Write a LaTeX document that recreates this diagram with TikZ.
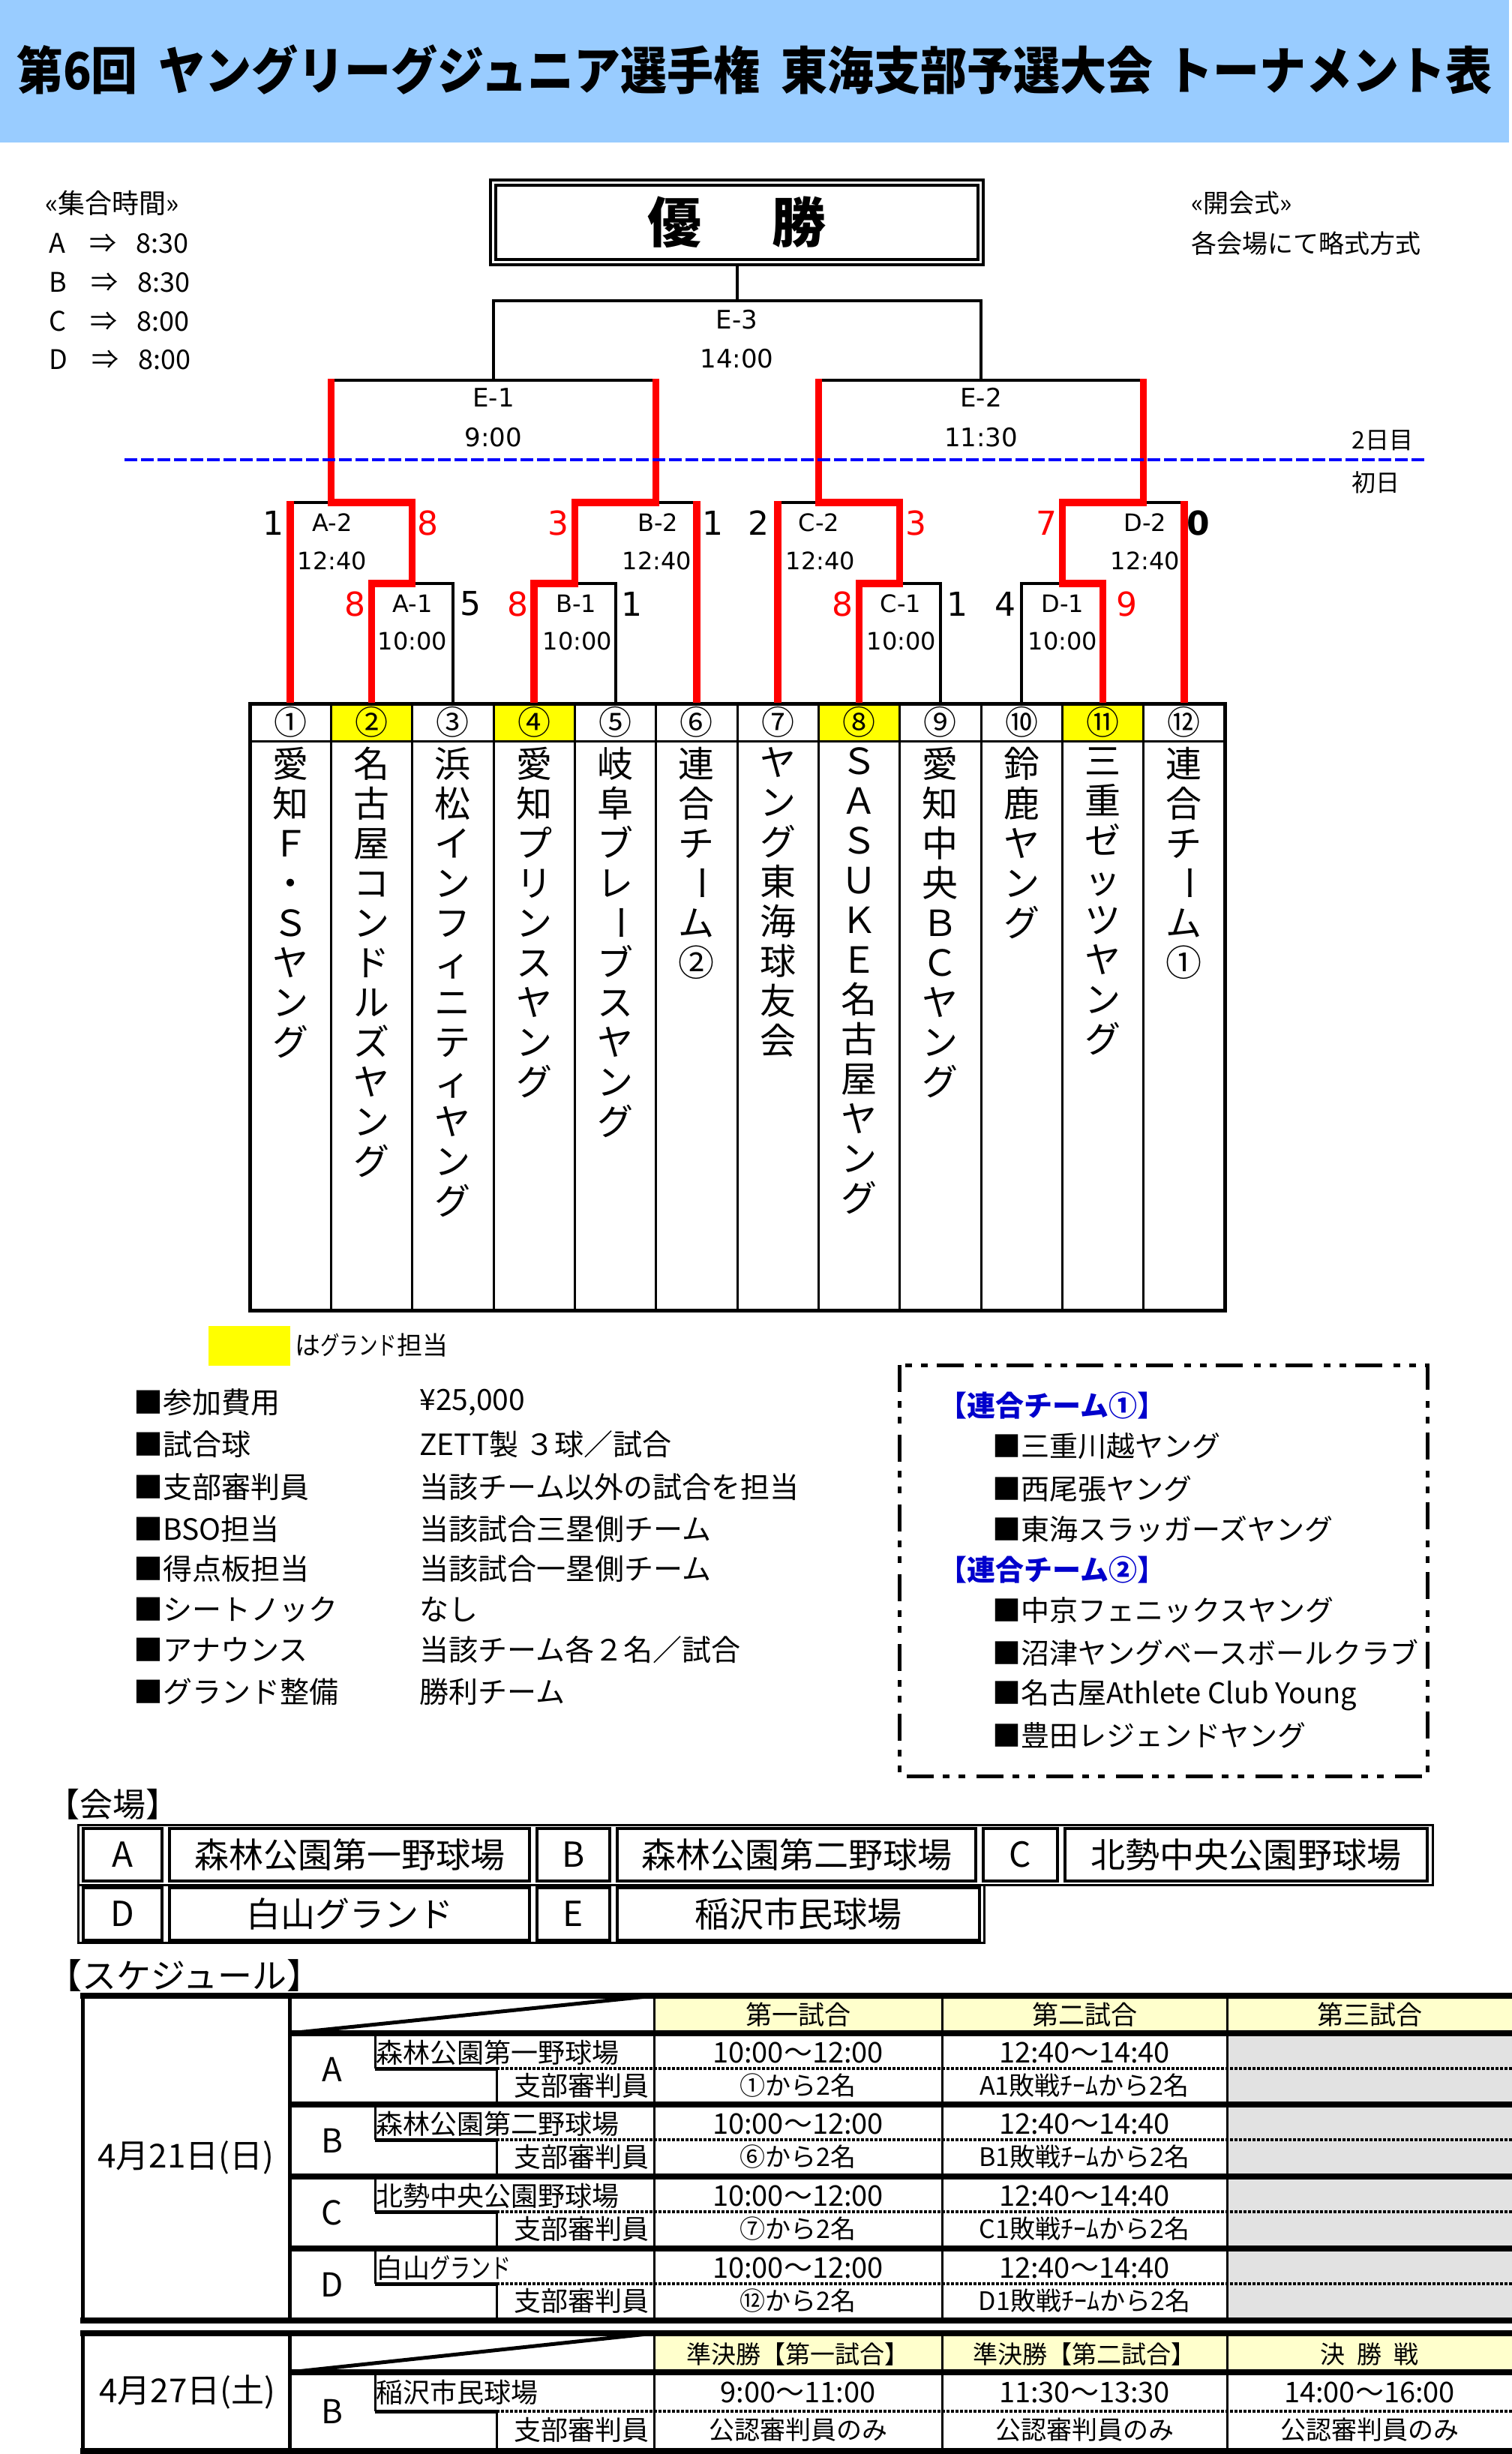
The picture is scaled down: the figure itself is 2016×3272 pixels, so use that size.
\documentclass[tikz,border=0pt]{standalone}
\usepackage{fontspec}
\usepackage{graphicx}
\setmainfont{Noto Sans CJK JP}
\newfontfamily\dvs{DejaVu Sans}
\definecolor{band}{HTML}{99CCFF}
\definecolor{hdr}{HTML}{FFFFCC}
\definecolor{ylw}{HTML}{FFFF00}
\definecolor{rd}{HTML}{FF0000}
\definecolor{bl}{HTML}{0000FF}
\definecolor{dkbl}{HTML}{0000CC}
\definecolor{gry}{HTML}{E2E2E2}
\newcommand\fsz[1]{\fontsize{#1}{#1}\selectfont}
\newcommand\vchoon{\raisebox{0.17em}{\rotatebox[origin=c]{-90}{ー}}}
\newcommand\narrowkana[1]{\scalebox{0.75}[1]{#1}}
\tikzset{
 blk/.style={line width=2pt, black},
 rdl/.style={line width=4.75pt, rd},
 lbl/.style={font=\dvs\fsz{16}, inner sep=0},
 elbl/.style={font=\dvs\fsz{17}, inner sep=0},
 sc/.style={font=\dvs\fsz{22}, inner sep=0},
 scr/.style={sc, text=rd},
 numcell/.style={draw, line width=1.5pt, minimum width=54.17pt, minimum height=25pt, inner sep=0, font=\fsz{22}},
 vname/.style={anchor=north, align=center, inner sep=0, font=\fontsize{24}{26.5}\selectfont},
 info/.style={anchor=west, inner sep=0, font=\fsz{19.5}},
 memb/.style={anchor=west, inner sep=0, font=\fsz{19}},
 mhead/.style={anchor=west, inner sep=0, font=\bfseries\fsz{19}, text=dkbl},
 vcell/.style={draw, line width=2pt, inner sep=0, minimum height=35pt, font=\fsz{23}},
 stxt/.style={inner sep=0, font=\fsz{17}},
 ttxt/.style={inner sep=0, font=\fsz{19}},
 shdr/.style={inner sep=0, font=\fsz{17.5}},
 thin1/.style={line width=1.5pt},
 thick4/.style={line width=4pt},
 dotl/.style={line width=2pt, dash pattern=on 2pt off 1pt},
}
\begin{document}
\begin{tikzpicture}[x=0.5pt,y=-0.5pt]
\useasboundingbox (0,0) rectangle (2016,3272);
\fill[white] (0,0) rectangle (2016,3272);

% ---------------- title band
\fill[band] (0,0) rectangle (2012,190);
\node[inner sep=0, font=\bfseries\fsz{31}] (title) at (1006,93)
 {\scalebox{1}[1.1]{第6回\hspace{0.45em}ヤングリーグジュニア選手権\hspace{0.45em}東海支部予選大会\hspace{0.3em}トーナメント表}};

% ---------------- top notes
\node[anchor=west, inner sep=0, font=\fsz{18}] (gath) at (60,271) {«集合時間»};
\node[anchor=west, inner sep=0, font=\fsz{18}] (gA) at (65,325) {A\hspace{16pt}⇒\hspace{13pt}8:30};
\node[anchor=west, inner sep=0, font=\fsz{18}] (gB) at (65,377) {B\hspace{16pt}⇒\hspace{13pt}8:30};
\node[anchor=west, inner sep=0, font=\fsz{18}] (gC) at (65,428) {C\hspace{16pt}⇒\hspace{13pt}8:00};
\node[anchor=west, inner sep=0, font=\fsz{18}] (gD) at (65,480) {D\hspace{16pt}⇒\hspace{13pt}8:00};
\node[anchor=west, inner sep=0, font=\fsz{17}] (open) at (1588,271) {«開会式»};
\node[anchor=west, inner sep=0, font=\fsz{17}] (open2) at (1588,325) {各会場にて略式方式};

% ---------------- champion box
\node[draw, line width=2pt, double, double distance=1.5pt, minimum width=325pt, minimum height=53pt,
      inner sep=0, font=\bfseries\fsz{36}] (champ) at (982.5,296.5) {優\hspace{47pt}勝};

% ---------------- team number cells
\node[numcell] (t1) at (387.17,963) {①};
\node[numcell, fill=ylw] (t2) at (495.5,963) {②};
\node[numcell] (t3) at (603.83,963) {③};
\node[numcell, fill=ylw] (t4) at (712.17,963) {④};
\node[numcell] (t5) at (820.5,963) {⑤};
\node[numcell] (t6) at (928.83,963) {⑥};
\node[numcell] (t7) at (1037.17,963) {⑦};
\node[numcell, fill=ylw] (t8) at (1145.5,963) {⑧};
\node[numcell] (t9) at (1253.83,963) {⑨};
\node[numcell] (t10) at (1362.17,963) {⑩};
\node[numcell, fill=ylw] (t11) at (1470.5,963) {⑪};
\node[numcell] (t12) at (1578.83,963) {⑫};
\foreach \xx in {441.33,549.67,658,766.33,874.67,983,1091.33,1199.67,1308,1416.33,1524.67}
  \draw[thin1] (\xx,988) -- (\xx,1747);
\draw[line width=2.5pt] (333,938) rectangle (1633,1747);

% ---------------- team names (vertical)
\node[vname] (n1) at (387.17,996) {愛\\知\\Ｆ\\・\\Ｓ\\ヤ\\ン\\グ};
\node[vname] (n2) at (495.5,996) {名\\古\\屋\\コ\\ン\\ド\\ル\\ズ\\ヤ\\ン\\グ};
\node[vname] (n3) at (603.83,996) {浜\\松\\イ\\ン\\フ\\ィ\\ニ\\テ\\ィ\\ヤ\\ン\\グ};
\node[vname] (n4) at (712.17,996) {愛\\知\\プ\\リ\\ン\\ス\\ヤ\\ン\\グ};
\node[vname] (n5) at (820.5,996) {岐\\阜\\ブ\\レ\\\vchoon\\ブ\\ス\\ヤ\\ン\\グ};
\node[vname] (n6) at (928.83,996) {連\\合\\チ\\\vchoon\\ム\\②};
\node[vname] (n7) at (1037.17,996) {ヤ\\ン\\グ\\東\\海\\球\\友\\会};
\node[vname] (n8) at (1145.5,996) {Ｓ\\Ａ\\Ｓ\\Ｕ\\Ｋ\\Ｅ\\名\\古\\屋\\ヤ\\ン\\グ};
\node[vname] (n9) at (1253.83,996) {愛\\知\\中\\央\\Ｂ\\Ｃ\\ヤ\\ン\\グ};
\node[vname] (n10) at (1362.17,996) {鈴\\鹿\\ヤ\\ン\\グ};
\node[vname] (n11) at (1470.5,996) {三\\重\\ゼ\\ッ\\ツ\\ヤ\\ン\\グ};
\node[vname] (n12) at (1578.83,996) {連\\合\\チ\\\vchoon\\ム\\①};

% ---------------- bracket (black)
\draw[blk] (495.5,778) -- (603.83,778) -- (t3.north);
\draw[blk] (712.17,778) -- (820.5,778) -- (t5.north);
\draw[blk] (1145.5,778) -- (1253.83,778) -- (t9.north);
\draw[blk] (t10.north) -- (1362.17,778) -- (1470.5,778);
\draw[blk] (387.17,670) -- (549.67,670);
\draw[blk] (766.33,670) -- (928.83,670);
\draw[blk] (1037.17,670) -- (1199.67,670);
\draw[blk] (1416.33,670) -- (1578.83,670);
\draw[blk] (441.33,507) -- (874.67,507);
\draw[blk] (1091.33,507) -- (1524.67,507);
\draw[blk] (658,507) -- (658,401) -- (1308,401) -- (1308,507);
\draw[blk] (champ.south) -- (982.5,401);

% ---------------- bracket (red)
\draw[rdl] (t1.north) -- (387.17,668);
\draw[rdl] (t2.north) -- (495.5,778) -- (549.67,778) -- (549.67,670) -- (441.33,670) -- (441.33,505);
\draw[rdl] (t4.north) -- (712.17,778) -- (766.33,778) -- (766.33,670) -- (874.67,670) -- (874.67,505);
\draw[rdl] (t6.north) -- (928.83,668);
\draw[rdl] (t7.north) -- (1037.17,668);
\draw[rdl] (t8.north) -- (1145.5,778) -- (1199.67,778) -- (1199.67,670) -- (1091.33,670) -- (1091.33,505);
\draw[rdl] (t11.north) -- (1470.5,778) -- (1416.33,778) -- (1416.33,670) -- (1524.67,670) -- (1524.67,505);
\draw[rdl] (t12.north) -- (1578.83,668);

% ---------------- day divider
\coordinate (dl) at (166,613);
\coordinate (dr) at (1901,613);
\draw[bl, line width=2pt, dash pattern=on 8.5pt off 2.5pt] (dl) -- (dr);
\node[anchor=west, inner sep=0, font=\fsz{16}] (day2) at (1802,587) {2日目};
\node[anchor=west, inner sep=0, font=\fsz{16}] (day1) at (1802,643) {初日};

% ---------------- match labels
\node[elbl] (lE3) at (982.5,426) {E-3};
\node[elbl] (tE3) at (982.5,478) {14:00};
\node[elbl] (lE1) at (658,530) {E-1};
\node[elbl] (tE1) at (658,583) {9:00};
\node[elbl] (lE2) at (1308,530) {E-2};
\node[elbl] (tE2) at (1308,583) {11:30};
\node[lbl] (lA2) at (443,697) {A-2};
\node[lbl] (tA2) at (443,748) {12:40};
\node[lbl] (lA1) at (550,805) {A-1};
\node[lbl] (tA1) at (550,855) {10:00};
\node[lbl] (lB1) at (768,805) {B-1};
\node[lbl] (tB1) at (770,855) {10:00};
\node[lbl] (lB2) at (877,697) {B-2};
\node[lbl] (tB2) at (876,748) {12:40};
\node[lbl] (lC2) at (1092,697) {C-2};
\node[lbl] (tC2) at (1094,748) {12:40};
\node[lbl] (lC1) at (1201,805) {C-1};
\node[lbl] (tC1) at (1202,855) {10:00};
\node[lbl] (lD1) at (1417,805) {D-1};
\node[lbl] (tD1) at (1417,855) {10:00};
\node[lbl] (lD2) at (1527,697) {D-2};
\node[lbl] (tD2) at (1527,748) {12:40};

% ---------------- scores
\node[sc]  (s1) at (364,697) {1};
\node[scr] (s2) at (570,697) {8};
\node[scr] (s3) at (473,805) {8};
\node[sc]  (s4) at (627,805) {5};
\node[scr] (s5) at (690,805) {8};
\node[sc]  (s6) at (842,805) {1};
\node[scr] (s7) at (744,697) {3};
\node[sc]  (s8) at (950,697) {1};
\node[sc]  (s9) at (1011,697) {2};
\node[scr] (s10) at (1221,697) {3};
\node[scr] (s11) at (1123,805) {8};
\node[sc]  (s12) at (1276,805) {1};
\node[sc]  (s13) at (1340,805) {4};
\node[scr] (s14) at (1502,805) {9};
\node[scr] (s15) at (1395,697) {7};
\node[sc, font=\dvs\bfseries\fsz{22}] (s16) at (1598,697) {0};

% ---------------- legend
\fill[ylw] (278,1768) rectangle (387,1821);
\node[anchor=west, inner sep=0, font=\fsz{17}] (leg) at (393,1794) {は\narrowkana{グランド}担当};

% ---------------- info list
\node[info] (i1) at (178,1870) {■参加費用};
\node[info] (i2) at (178,1926) {■試合球};
\node[info] (i3) at (178,1983) {■支部審判員};
\node[info] (i4) at (178,2039) {■BSO担当};
\node[info] (i5) at (178,2092) {■得点板担当};
\node[info] (i6) at (178,2146) {■シートノック};
\node[info] (i7) at (178,2200) {■アナウンス};
\node[info] (i8) at (178,2256) {■グランド整備};
\node[info] (v1) at (559,1870) {¥25,000};
\node[info] (v2) at (559,1926) {ZETT製 ３球／試合};
\node[info] (v3) at (559,1983) {当該チーム以外の試合を担当};
\node[info] (v4) at (559,2039) {当該試合三塁側チーム};
\node[info] (v5) at (559,2092) {当該試合一塁側チーム};
\node[info] (v6) at (559,2146) {なし};
\node[info] (v7) at (559,2200) {当該チーム各２名／試合};
\node[info] (v8) at (559,2256) {勝利チーム};

% ---------------- joint team box
\draw[line width=2.5pt, dash pattern=on 18pt off 6pt on 4.5pt off 6pt on 4.5pt off 7.5pt] (1199,1820) rectangle (1903,2368);
\node[mhead] (h1) at (1251,1874) {【連合チーム①】};
\node[memb] (m1) at (1323,1928) {■三重川越ヤング};
\node[memb] (m2) at (1323,1985) {■西尾張ヤング};
\node[memb] (m3) at (1323,2039) {■東海スラッガーズヤング};
\node[mhead] (h2) at (1251,2093) {【連合チーム②】};
\node[memb] (m4) at (1323,2147) {■中京フェニックスヤング};
\node[memb] (m5) at (1323,2204) {■沼津ヤングベースボールクラブ};
\node[memb] (m6) at (1323,2260) {■名古屋Athlete Club Young};
\node[memb] (m7) at (1323,2314) {■豊田レジェンドヤング};

% ---------------- venues
\node[anchor=west, inner sep=0, font=\fsz{22}] (venT) at (62,2406) {【会場】};
\draw[line width=1.5pt] (104,2433) rectangle (1910,2513);
\draw[line width=1.5pt] (104,2513) rectangle (1312,2590);
\node[vcell, minimum width=52.5pt] (vA) at (163.5,2473) {A};
\node[vcell, minimum width=240pt] (vAn) at (466,2473) {森林公園第一野球場};
\node[vcell, minimum width=48.5pt] (vB) at (764.5,2473) {B};
\node[vcell, minimum width=239pt] (vBn) at (1062,2473) {森林公園第二野球場};
\node[vcell, minimum width=49.5pt] (vC) at (1360.5,2473) {C};
\node[vcell, minimum width=241.5pt] (vCn) at (1661.5,2473) {北勢中央公園野球場};
\node[vcell, minimum width=52.5pt] (vD) at (163.5,2551.5) {D};
\node[vcell, minimum width=240pt] (vDn) at (466,2551.5) {白山グランド};
\node[vcell, minimum width=48.5pt] (vE) at (764.5,2551.5) {E};
\node[vcell, minimum width=241.5pt] (vEn) at (1064.5,2551.5) {稲沢市民球場};

% ---------------- schedule table 1
\node[anchor=west, inner sep=0, font=\fsz{23}] (schT) at (63,2634) {【スケジュール】};
\fill[hdr] (872,2665) rectangle (2016,2707);
\foreach \yt/\L/\V/\J/\Q in {2715/A/森林公園第一野球場/①/A1敗戦ﾁｰﾑから2名,
                             2810/B/森林公園第二野球場/⑥/B1敗戦ﾁｰﾑから2名,
                             2906/C/北勢中央公園野球場/⑦/C1敗戦ﾁｰﾑから2名,
                             3002/D/白山\narrowkana{グランド}/⑫/D1敗戦ﾁｰﾑから2名} {
  \pgfmathsetmacro\ymid{\yt+43}
  \pgfmathsetmacro\ybot{\yt+88}
  \pgfmathsetmacro\yup{\yt+22}
  \pgfmathsetmacro\ylow{\yt+66}
  \pgfmathsetmacro\yctr{\yt+44}
  \fill[gry] (1636,\yt) rectangle (2016,\ybot);
  \draw[thin1] (500,\yt) -- (500,\ymid);
  \draw[thin1] (662,\ymid) -- (662,\ybot);
  \draw[line width=2.5pt] (500,\ymid) -- (662,\ymid);
  \draw[dotl] (662,\ymid) -- (2016,\ymid);
  \node[inner sep=0, font=\fsz{22}] (sl\L) at (443,\yctr) {\L};
  \node[anchor=west, inner sep=0, font=\fsz{18}] (sv\L) at (501,\yup) {\V};
  \node[anchor=east, inner sep=0, font=\fsz{18}] (su\L) at (866,\ylow) {支部審判員};
  \node[ttxt] (sa\L) at (1064,\yup) {10:00～12:00};
  \node[ttxt] (sb\L) at (1446,\yup) {12:40～14:40};
  \node[stxt] (sc\L) at (1064,\ylow) {\J から2名};
  \node[stxt] (sd\L) at (1446,\ylow) {\Q};
}
\foreach \xx in {872,1256,1636} \draw[thin1] (\xx,2661) -- (\xx,3094);
\draw[thick4] (107,2661) -- (2016,2661);
\draw[thick4] (107,3094) -- (2016,3094);
\draw[line width=2.5pt] (110,2661) -- (110,3094);
\draw[line width=2.5pt] (386,2661) -- (386,3094);
\draw[thick4] (386,2711) -- (2016,2711);
\foreach \yy in {2806,2902,2998} \draw[thick4] (386,\yy) -- (2016,\yy);
\draw[line width=2.5pt] (386,2711) -- (872,2661);
\node[shdr] (hd1) at (1064,2686) {第一試合};
\node[shdr] (hd2) at (1446,2686) {第二試合};
\node[shdr] (hd3) at (1826,2686) {第三試合};
\node[inner sep=0, font=\fsz{22}] (date1) at (248,2877) {4月21日(日)};

% ---------------- schedule table 2
\fill[hdr] (872,3115) rectangle (2016,3159);
\draw[thin1] (500,3167) -- (500,3215);
\draw[thin1] (662,3215) -- (662,3264);
\draw[line width=2.5pt] (500,3215) -- (662,3215);
\draw[dotl] (662,3215) -- (2016,3215);
\foreach \xx in {872,1256,1636} \draw[thin1] (\xx,3111) -- (\xx,3268);
\draw[thick4] (107,3111) -- (2016,3111);
\draw[thick4] (107,3268) -- (2016,3268);
\draw[line width=2.5pt] (110,3111) -- (110,3272);
\draw[line width=2.5pt] (386,3111) -- (386,3272);
\draw[thick4] (386,3163) -- (2016,3163);
\draw[line width=2.5pt] (386,3163) -- (872,3111);
\node[inner sep=0, font=\fsz{16.5}] (hf1) at (1064,3139) {準決勝【第一試合】};
\node[inner sep=0, font=\fsz{16.5}] (hf2) at (1446,3139) {準決勝【第二試合】};
\node[inner sep=0, font=\fsz{16.5}] (hf3) at (1826,3139) {決\hspace{8pt}勝\hspace{8pt}戦};
\node[inner sep=0, font=\fsz{22}] (date2) at (250,3189) {4月27日(土)};
\node[inner sep=0, font=\fsz{22}] (flB) at (443,3215) {B};
\node[anchor=west, inner sep=0, font=\fsz{18}] (fvB) at (501,3190) {稲沢市民球場};
\node[anchor=east, inner sep=0, font=\fsz{18}] (fuB) at (866,3240) {支部審判員};
\node[ttxt] (f1) at (1064,3190) {9:00～11:00};
\node[ttxt] (f2) at (1446,3190) {11:30～13:30};
\node[ttxt] (f3) at (1826,3190) {14:00～16:00};
\node[stxt] (f4) at (1064,3240) {公認審判員のみ};
\node[stxt] (f5) at (1446,3240) {公認審判員のみ};
\node[stxt] (f6) at (1826,3240) {公認審判員のみ};
\end{tikzpicture}
\end{document}
